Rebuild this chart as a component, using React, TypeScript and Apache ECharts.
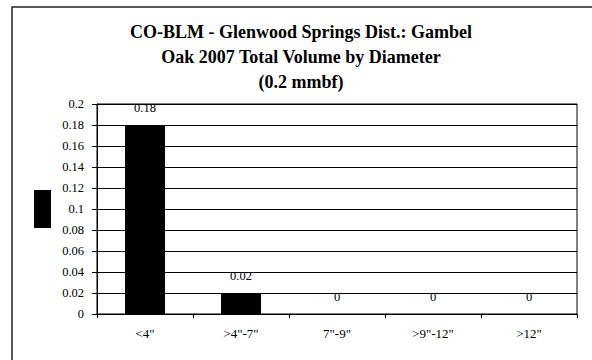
import React, { useEffect, useRef } from "react";
import * as echarts from "echarts";

const categories = ['<4"', '>4"-7"', '7"-9"', '>9"-12"', '>12"'];
const volumes = [0.18, 0.02, 0, 0, 0];
const titleLines = [
  "CO-BLM - Glenwood Springs Dist.: Gambel",
  "Oak 2007 Total Volume by Diameter",
  "(0.2 mmbf)",
];
const yMin = 0;
const yMax = 0.2;
const yStep = 0.02;

const FONT = "Liberation Serif";

export default function App() {
  const ref = useRef<HTMLDivElement>(null);
  useEffect(() => {
    if (!ref.current) return;
    const chart = echarts.init(ref.current, undefined, { renderer: "svg" });
    chart.setOption({
      animation: false,
      backgroundColor: "#ffffff",
      textStyle: { fontFamily: FONT },
      title: {
        text: titleLines.join("\n"),
        left: 301,
        textAlign: "center",
        top: 19,
        padding: 0,
        textStyle: {
          fontFamily: FONT,
          fontSize: 18,
          fontWeight: "bold",
          color: "#000",
          lineHeight: 25,
        },
      },
      graphic: [
        {
          type: "rect",
          shape: { x: 12, y: 7, width: 620, height: 420 },
          style: { fill: "none", stroke: "#222", lineWidth: 1.5 },
          silent: true,
          z: -1,
        },
        {
          type: "rect",
          shape: { x: 34, y: 190, width: 17, height: 38 },
          style: { fill: "#000" },
          silent: true,
        },
      ],
      grid: {
        left: 97,
        top: 104,
        width: 480,
        height: 210,
        show: true,
        borderColor: "#000",
        borderWidth: 1,
        backgroundColor: "transparent",
      },
      xAxis: {
        type: "category",
        data: categories,
        axisLine: { lineStyle: { color: "#000", width: 1 } },
        axisTick: { show: true, length: 4, lineStyle: { color: "#000" } },
        axisLabel: {
          color: "#000",
          fontFamily: FONT,
          fontSize: 13,
          margin: 13,
        },
      },
      yAxis: {
        type: "value",
        min: yMin,
        max: yMax,
        interval: yStep,
        axisLine: { show: true, lineStyle: { color: "#000", width: 1 } },
        axisTick: { show: true, length: 5, lineStyle: { color: "#000" } },
        axisLabel: {
          color: "#000",
          fontFamily: FONT,
          fontSize: 12.5,
          margin: 13,
        },
        splitLine: { show: true, lineStyle: { color: "#000", width: 1 } },
      },
      series: [
        {
          type: "bar",
          data: volumes,
          barWidth: 40,
          itemStyle: { color: "#000" },
          label: {
            show: true,
            position: "top",
            distance: 11,
            color: "#000",
            fontFamily: FONT,
            fontSize: 12.5,
          },
        },
      ],
    });
    return () => chart.dispose();
  }, []);
  return (
    <div
      ref={ref}
      style={{ position: "fixed", left: 0, top: 0, width: 592, height: 360 }}
    />
  );
}
